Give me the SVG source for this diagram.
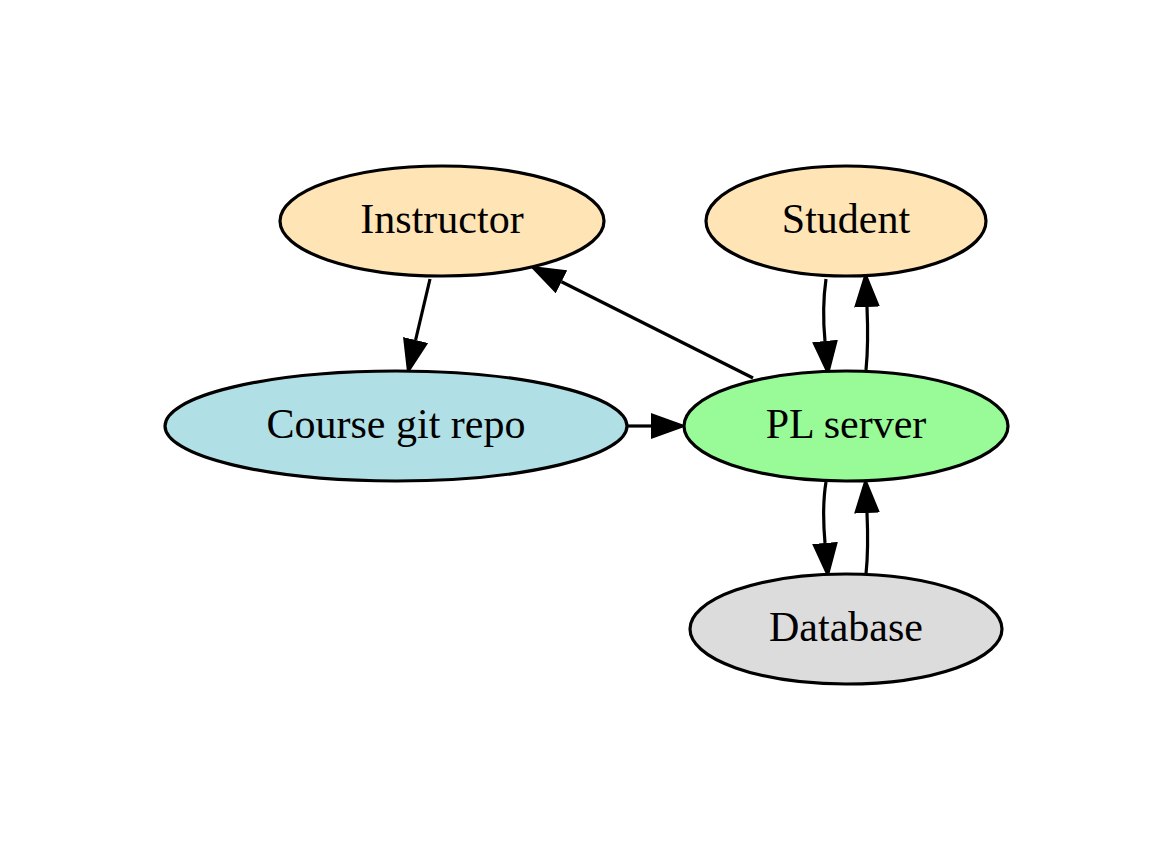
<svg xmlns="http://www.w3.org/2000/svg" width="1175" height="854" viewBox="0 0 1175 854">
<style>
.node ellipse{stroke:#000;stroke-width:3.2}
.node text{font-family:"Liberation Serif","Times New Roman",serif;font-size:42px;fill:#000;text-anchor:middle}
.edges path{fill:none;stroke:#000;stroke-width:3.2}
</style>
<defs>
<marker id="arr" viewBox="0 0 34 26" refX="0" refY="13" markerWidth="34" markerHeight="26" markerUnits="userSpaceOnUse" orient="auto">
<path d="M1,1.5 L33,13 L1,24.5 z" fill="#000" stroke="#000" stroke-width="2"/>
</marker>
</defs>
<rect width="1175" height="854" fill="#fff"/>
<g class="edges">
<path d="M430,279 L415.6,340" marker-end="url(#arr)"/>
<path d="M753,378 L561.5,281.8" marker-end="url(#arr)"/>
<path d="M627,426 L651,426" marker-end="url(#arr)"/>
<path d="M826,279 C823,300 823,320 825,341" marker-end="url(#arr)"/>
<path d="M866,370 C868,350 868,330 867,307" marker-end="url(#arr)"/>
<path d="M826,482 C823,500 823,520 825,543" marker-end="url(#arr)"/>
<path d="M866,574 C868,555 868,535 867,513" marker-end="url(#arr)"/>
</g>
<g id="instructor" class="node"><ellipse cx="442" cy="221" rx="162" ry="55" fill="#ffe4b5"/><text x="442" y="233">Instructor</text></g>
<g id="student" class="node"><ellipse cx="846" cy="221" rx="140" ry="55" fill="#ffe4b5"/><text x="846" y="233">Student</text></g>
<g id="repo" class="node"><ellipse cx="396" cy="426" rx="231" ry="55" fill="#b0e0e6"/><text x="396" y="438">Course git repo</text></g>
<g id="server" class="node"><ellipse cx="846" cy="426" rx="162" ry="55" fill="#98fb98"/><text x="846" y="438">PL server</text></g>
<g id="database" class="node"><ellipse cx="846" cy="629" rx="156" ry="55" fill="#dcdcdc"/><text x="846" y="641">Database</text></g>
</svg>
